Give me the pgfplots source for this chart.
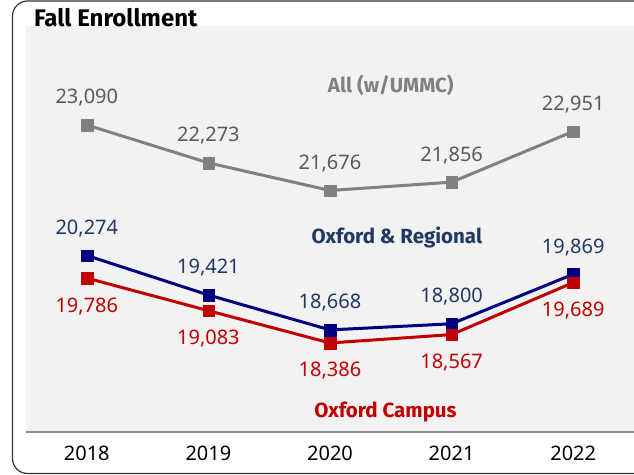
\documentclass[border=0pt]{standalone}
\usepackage{fontspec}
\setmainfont{Noto Sans}
\newfontfamily\boldfont{Fira Sans}
\usepackage{pgfplots}
\pgfplotsset{compat=1.18}
\definecolor{bg}{HTML}{F2F2F2}
\definecolor{allc}{HTML}{808080}
\definecolor{alltxt}{HTML}{595959}
\definecolor{navyl}{HTML}{000080}
\definecolor{navyt}{HTML}{1F3864}
\definecolor{redl}{HTML}{C00000}
\definecolor{axisc}{HTML}{8C8C8C}
\begin{document}
\begin{tikzpicture}[x=1bp,y=1bp]
\clip (0,0) rectangle (634,475);
\draw[black!80, line width=1.2bp, rounded corners=15bp] (12.5,1.5) rectangle (700,474);
\begin{axis}[
  at={(26bp,43bp)}, anchor=south west,
  scale only axis, width=608bp, height=406bp,
  xmin=-0.5, xmax=4.5, ymin=16465, ymax=25226,
  axis background/.style={fill=bg},
  axis x line=bottom, axis y line=none,
  axis line style={-, axisc, line width=2bp},
  xtick={0,...,4}, xticklabels={2018,2019,2020,2021,2022},
  major tick length=0pt,
  xticklabel style={font=\fontsize{20bp}{24bp}\selectfont, text=black, yshift=-10bp},
  ytick=\empty,
  clip=false,
  /pgf/number format/1000 sep={,},
  /pgf/number format/assume math mode=true,
  /pgf/number format/fixed,
  /pgf/number format/precision=0,
  nodes near coords,
  every node near coord/.append style={font=\fontsize{20bp}{24bp}\selectfont, anchor=center},
  every axis plot/.append style={line width=3bp, mark=square*, mark size=5.8bp, line join=round},
]
\addplot[color=allc, mark options={solid, line width=0.2bp}, every node near coord/.append style={text=alltxt, yshift=27bp}]
  coordinates {(0,23090)(1,22273)(2,21676)(3,21856)(4,22951)};
\addplot[color=navyl, mark options={solid, line width=0.2bp}, every node near coord/.append style={text=navyt, yshift=27bp}]
  coordinates {(0,20274)(1,19421)(2,18668)(3,18800)(4,19869)};
\addplot[color=redl, mark options={solid, line width=0.2bp}, every node near coord/.append style={text=redl, yshift=-28bp}]
  coordinates {(0,19786)(1,19083)(2,18386)(3,18567)(4,19689)};
\node[font=\boldfont\bfseries\fontsize{20.5bp}{24bp}\selectfont, text=allc] at (axis cs:2.5,23953) {All (w/UMMC)};
\node[font=\boldfont\bfseries\fontsize{20.5bp}{24bp}\selectfont, text=navyt] at (axis cs:2.55,20652) {Oxford \& Regional};
\node[font=\boldfont\bfseries\fontsize{20.5bp}{24bp}\selectfont, text=redl] at (axis cs:2.456,16897) {Oxford Campus};
\end{axis}
\node[anchor=base west, font=\boldfont\bfseries\fontsize{24bp}{28bp}\selectfont, inner sep=0pt] at (34,448) {Fall Enrollment};
\end{tikzpicture}
\end{document}
